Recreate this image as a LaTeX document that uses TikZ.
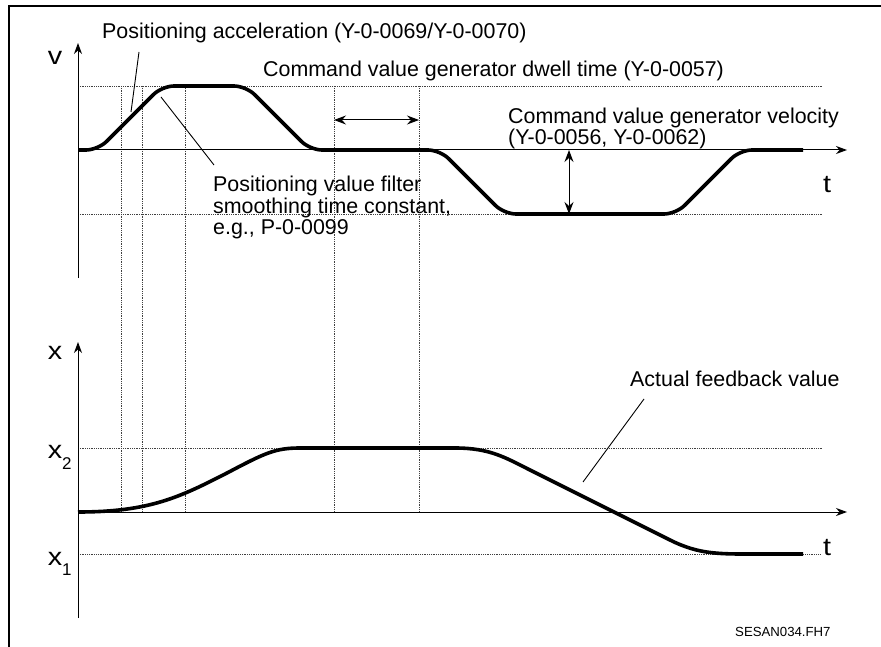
\documentclass[tikz,border=0pt]{standalone}
\usepackage{fontspec}
\setmainfont{Liberation Sans}
\usetikzlibrary{arrows.meta}
\begin{document}
\begin{tikzpicture}[x=1pt,y=-1pt,
  frame/.style={line width=2pt},
  axisline/.style={line width=1pt,-{Stealth[length=11pt,width=8pt,inset=3.5pt]}},
  guide/.style={line width=0.8pt,densely dotted,black!75},
  curve/.style={line width=3.6pt,rounded corners=12pt,line join=round},
  scurve/.style={line width=3.6pt,line join=round},
  lbl/.style={font=\fontsize{21.4}{25}\selectfont,anchor=base west,inner sep=0pt},
  axlbl/.style={font=\fontsize{25}{28}\selectfont,anchor=base,inner sep=0pt,xscale=1.15},
  subs/.style={font=\fontsize{17}{20}\selectfont,anchor=base west,inner sep=0pt},
  note/.style={font=\fontsize{13.2}{16}\selectfont,anchor=base west,inner sep=0pt},
  leader/.style={line width=0.9pt},
  dimarrow/.style={line width=1pt,{Stealth[length=12pt,width=9pt,inset=4pt]}-{Stealth[length=12pt,width=9pt,inset=4pt]}}]
\useasboundingbox (0,0) rectangle (881,647);
% frame
\coordinate (fbl) at (9,647);
\coordinate (ftl) at (9,6);
\coordinate (ftr) at (881,6);
\draw[frame] (fbl) -- (ftl) -- (ftr);

% coordinates of axes
\coordinate (vorig) at (78,150);
\coordinate (vbot) at (78,278);
\coordinate (vtop) at (78,43);
\coordinate (vtend) at (847,150);
\coordinate (xorig) at (78,512);
\coordinate (xbot) at (78,618);
\coordinate (xtop) at (78,342);
\coordinate (xtend) at (847,512);

% horizontal guides
\coordinate (vmaxL) at (78,86);  \coordinate (vmaxR) at (823,86);
\coordinate (vminL) at (78,214); \coordinate (vminR) at (823,214);
\coordinate (x2L) at (78,448);   \coordinate (x2R) at (823,448);
\coordinate (x1L) at (78,554);   \coordinate (x1R) at (820,554);
\draw[guide] (vmaxL) -- (vmaxR);
\draw[guide] (vminL) -- (vminR);
\draw[guide] (x2L) -- (x2R);
\draw[guide] (x1L) -- (x1R);

% vertical guides
\foreach \gx/\gn in {121/a,142/b,185/c,334/d,419/e}{
  \coordinate (g\gn top) at (\gx,86);
  \coordinate (g\gn bot) at (\gx,512);
  \draw[guide] (g\gn top) -- (g\gn bot);
}

% axes
\draw[axisline] (vbot) -- (vtop);
\draw[axisline] (vorig) -- (vtend);
\draw[axisline] (xbot) -- (xtop);
\draw[axisline] (xorig) -- (xtend);

% velocity profile
\draw[curve] (vorig) -- (98,150) -- (162,86) -- (246,86) -- (310,150) -- (440,150)
  -- (504,214) -- (676,214) -- (740,150) -- (803,150);

% position profile
\draw[scurve] (xorig) .. controls (150,512) and (180,497) .. (227,473)
  .. controls (265,453) and (275,448) .. (300,448) -- (455,448)
  .. controls (490,448) and (505,457.5) .. (530,470) -- (670,540)
  .. controls (700,555) and (720,554) .. (760,554) -- (803,554);

% dimension arrows
\coordinate (dwA) at (334,120); \coordinate (dwB) at (419,120);
\draw[dimarrow] (dwA) -- (dwB);
\coordinate (vaA) at (569,150); \coordinate (vaB) at (569,214);
\draw[dimarrow] (vaA) -- (vaB);

% axis labels
\node[axlbl] (lv) at (55,65) {v};
\node[axlbl] (lx) at (55,359) {x};
\node[axlbl] (lx2) at (55,458) {x};
\node[subs] (lx2s) at (62,469) {2};
\node[axlbl] (lx1) at (55,565) {x};
\node[subs] (lx1s) at (62,575) {1};
\node[axlbl] (lt1) at (827,193) {t};
\node[axlbl] (lt2) at (827,555) {t};

% text labels
\node[lbl] (acc) at (102,39) {Positioning acceleration (Y-0-0069/Y-0-0070)};
\node[lbl] (dwell) at (263,77) {Command value generator dwell time (Y-0-0057)};
\node[lbl] (vel1) at (508,124) {Command value generator velocity};
\node[lbl] (vel2) at (508,145) {(Y-0-0056, Y-0-0062)};
\node[lbl] (filt1) at (213,192) {Positioning value filter};
\node[lbl] (filt2) at (213,214) {smoothing time constant,};
\node[lbl] (filt3) at (213,235) {e.g., P-0-0099};
\node[lbl] (act) at (630,386) {Actual feedback value};
\node[note] (code) at (735,636) {SESAN034.FH7};

% leader lines
\coordinate (accA) at (139,52);  \coordinate (accB) at (131,112);
\draw[leader] (accA) -- (accB);
\coordinate (filA) at (214,165); \coordinate (filB) at (161,97);
\draw[leader] (filA) -- (filB);
\coordinate (actA) at (644,399); \coordinate (actB) at (583,482);
\draw[leader] (actA) -- (actB);
\end{tikzpicture}
\end{document}
